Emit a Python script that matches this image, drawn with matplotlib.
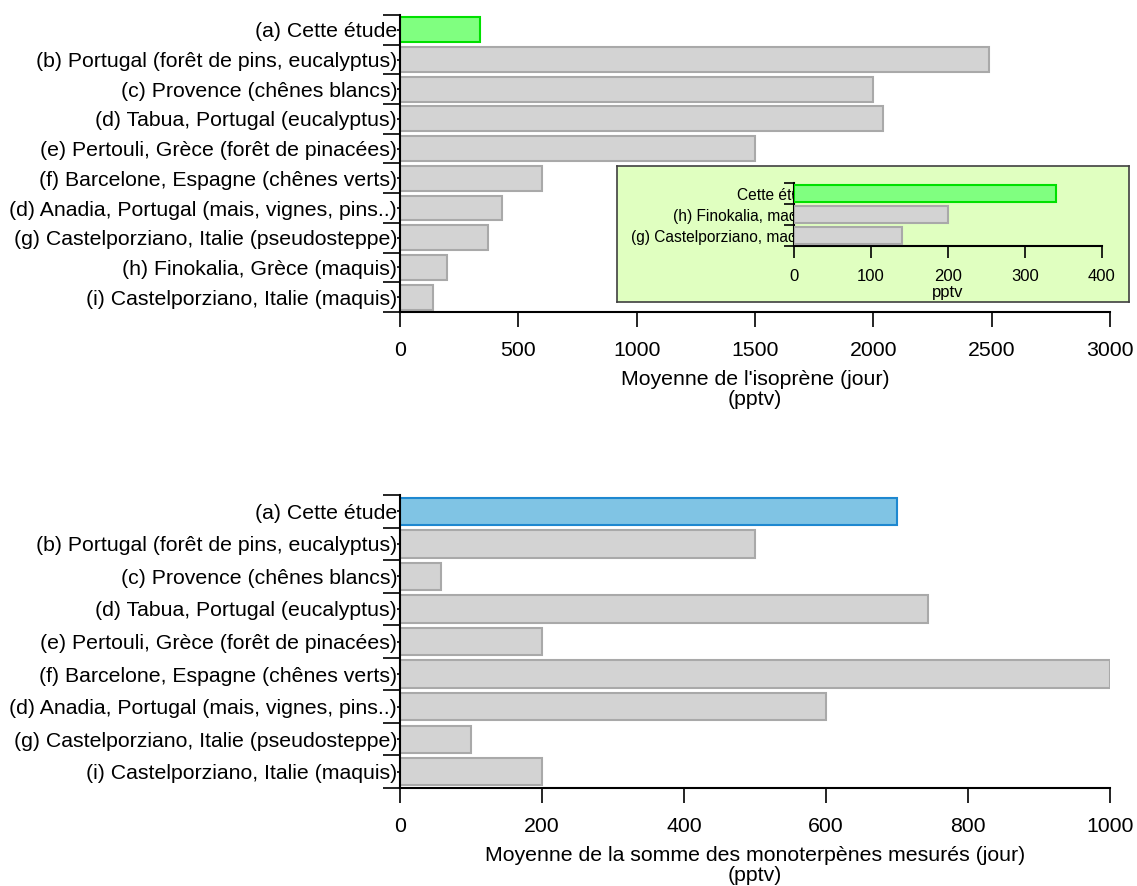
import matplotlib
matplotlib.use("Agg")
import numpy as np
import matplotlib.pyplot as plt
from matplotlib.ticker import FixedLocator

plt.rcParams['font.family'] = ['Liberation Sans', 'DejaVu Sans']

# ─── Data ────────────────────────────────────────────────────────────
iso_labels = [
    "(a) Cette étude",
    "(b) Portugal (forêt de pins, eucalyptus)",
    "(c) Provence (chênes blancs)",
    "(d) Tabua, Portugal (eucalyptus)",
    "(e) Pertouli, Grèce (forêt de pinacées)",
    "(f) Barcelone, Espagne (chênes verts)",
    "(d) Anadia, Portugal (mais, vignes, pins..)",
    "(g) Castelporziano, Italie (pseudosteppe)",
    "(h) Finokalia, Grèce (maquis)",
    "(i) Castelporziano, Italie (maquis)",
]
iso_values = [340, 2490, 2000, 2040, 1500, 600, 430, 370, 200, 140]

mono_labels = [
    "(a) Cette étude",
    "(b) Portugal (forêt de pins, eucalyptus)",
    "(c) Provence (chênes blancs)",
    "(d) Tabua, Portugal (eucalyptus)",
    "(e) Pertouli, Grèce (forêt de pinacées)",
    "(f) Barcelone, Espagne (chênes verts)",
    "(d) Anadia, Portugal (mais, vignes, pins..)",
    "(g) Castelporziano, Italie (pseudosteppe)",
    "(i) Castelporziano, Italie (maquis)",
]
mono_values = [700, 500, 58, 743, 200, 1000, 600, 100, 200]

inset_labels = ["Cette étude", "(h) Finokalia, maquis", "(g) Castelporziano, maquis"]
inset_values = [340, 200, 140]

GRAY_FC, GRAY_EC = '#d3d3d3', '#a9a9a9'
GREEN_FC, GREEN_EC = '#80ff80', '#00e000'
BLUE_FC, BLUE_EC = '#80c4e4', '#1e88d0'
FS = 15.3


def style_bar_axis(ax, labels, values, hl_fc, hl_ec, xmax, xstep, xlabel,
                   fs=FS, xfs=FS, major_len=12.5, minor_len=2.5, ypad=-0.5,
                   xtick_len=11, xpad=10, labelpad=7, bar_z=2):
    n = len(labels)
    pos = np.arange(n)
    fc = [hl_fc] + [GRAY_FC] * (n - 1)
    ec = [hl_ec] + [GRAY_EC] * (n - 1)
    ax.barh(pos, values, height=0.84, color=fc, edgecolor=ec,
            linewidth=1.5, zorder=bar_z)
    ax.set_ylim(n - 0.5, -0.5)
    ax.set_xlim(0, xmax)
    # brackets between categories, small ticks + labels at the centres
    ax.yaxis.set_major_locator(FixedLocator(np.arange(n + 1) - 0.5))
    ax.yaxis.set_minor_locator(FixedLocator(pos))
    ax.set_yticklabels([], minor=False)
    ax.set_yticklabels(labels, minor=True, fontsize=fs)
    ax.tick_params(axis='y', which='major', length=major_len, width=1.2)
    ax.tick_params(axis='y', which='minor', length=minor_len, width=1.2, pad=ypad)
    ax.set_xticks(np.arange(0, xmax + 1, xstep))
    ax.tick_params(axis='x', which='major', length=xtick_len, width=1.2,
                   pad=xpad, labelsize=xfs)
    for s in ['top', 'right']:
        ax.spines[s].set_visible(False)
    for s in ['left', 'bottom']:
        ax.spines[s].set_linewidth(1.5)
    ax.set_xlabel(xlabel, fontsize=xfs, labelpad=labelpad, linespacing=1.05)
    ax.patch.set_alpha(0)


fig = plt.figure(figsize=(11.37, 8.86), dpi=100)

ax1 = fig.add_axes([0.3518, 0.6479, 0.6245, 0.3352])
style_bar_axis(ax1, iso_labels, iso_values, GREEN_FC, GREEN_EC, 3000, 500,
               "Moyenne de l'isoprène (jour)\n(pptv)")

ax2 = fig.add_axes([0.3518, 0.1106, 0.6245, 0.3307])
style_bar_axis(ax2, mono_labels, mono_values, BLUE_FC, BLUE_EC, 1000, 200,
               "Moyenne de la somme des monoterpènes mesurés (jour)\n(pptv)")

# ─── Inset: background box ───────────────────────────────────────────
box = fig.add_axes([0.5427, 0.6591, 0.4503, 0.1535])
box.set_facecolor('#e0ffc0')
box.set_xticks([])
box.set_yticks([])
for s in box.spines.values():
    s.set_linewidth(1.2)
    s.set_edgecolor('#404040')

ins = fig.add_axes([0.6983, 0.7223, 0.2709, 0.0711])
style_bar_axis(ins, inset_labels, inset_values, GREEN_FC, GREEN_EC, 400, 100,
               "pptv", fs=11.2, xfs=12, major_len=7, minor_len=1.5, ypad=-18,
               xtick_len=8.5, xpad=8, labelpad=1, bar_z=3)

plt.savefig('out.png', dpi=100)
